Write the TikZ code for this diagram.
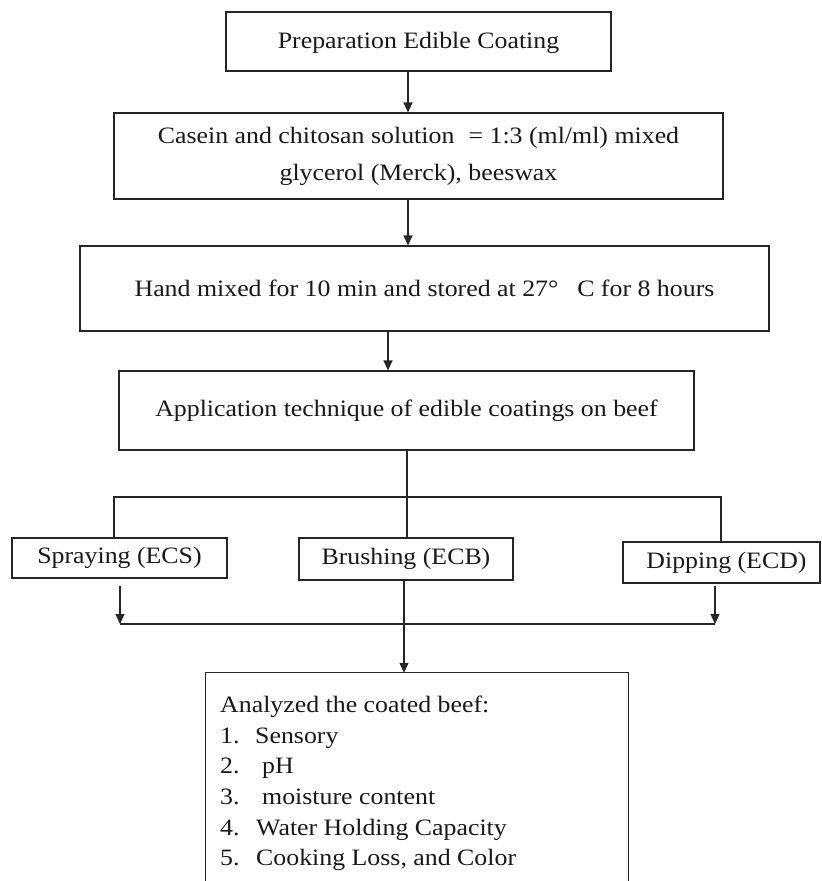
\documentclass[tikz,border=0pt]{standalone}
\usepackage{fontspec}
\setmainfont{Liberation Serif}[FakeStretch=1.1]
\usetikzlibrary{arrows.meta}
\begin{document}
\begin{tikzpicture}[x=1pt,y=-1pt,
  every node/.style={font=\fontsize{23.5}{26}\selectfont, text=black!90},
  box/.style={draw=black!85, line width=1.2pt, inner sep=0pt, align=center},
  ln/.style={draw=black!85, line width=1.2pt},
  arr/.style={ln, -{Triangle[width=9pt,length=10pt]}}]
\useasboundingbox (0,0) rectangle (822,881);
\node[box, minimum width=385pt, minimum height=59pt, text height=20pt, text depth=5.2pt] (prep) at (418.5,41.5) {Preparation Edible Coating};
\node[box, minimum width=609pt, minimum height=86pt, font=\fontsize{23.5}{37}\selectfont] (cas) at (418.5,156)
  {Casein and chitosan solution\hspace{0.6em}= 1:3 (ml/ml) mixed\\ glycerol (Merck), beeswax};
\node[box, minimum width=689pt, minimum height=85pt] (hand) at (424.5,288.5)
  {Hand mixed for 10 min and stored at 27\textdegree\hspace{0.8em}C for 8 hours};
\node[box, minimum width=575pt, minimum height=79pt] (app) at (406.5,410.5)
  {Application technique of edible coatings on beef};
\node[box, minimum width=215pt, minimum height=40pt] (spray) at (119.5,558) {Spraying (ECS)};
\node[box, minimum width=214pt, minimum height=42pt] (brush) at (406,559) {Brushing (ECB)};
\node[box, minimum width=197pt, minimum height=41pt] (dip) at (721.5,562.5) {\hspace{10pt}Dipping (ECD)};
\node[minimum width=422pt, minimum height=208pt, inner sep=0pt] (ana) at (417,777) {};
\draw[ln] (ana.south west) -- (ana.north west) -- (ana.north east) -- (ana.south east);
\node[anchor=north west, align=left, inner sep=0pt, font=\fontsize{23.5}{30.6}\selectfont] (list) at (220,696)
  {Analyzed the coated beef:\\
   \makebox[35pt][l]{1.}Sensory\\
   \makebox[42pt][l]{2.}pH\\
   \makebox[42pt][l]{3.}moisture content\\
   \makebox[36pt][l]{4.}Water Holding Capacity\\
   \makebox[36pt][l]{5.}Cooking Loss, and Color};
\coordinate (br) at (0,497);
\coordinate (jn) at (0,624);
\draw[arr] ([xshift=-10.5pt]prep.south) -- ([xshift=-10.5pt]cas.north);
\draw[arr] ([xshift=-10.5pt]cas.south) -- ([xshift=-10.5pt]cas.south |- hand.north);
\draw[arr] ([xshift=-36.5pt]hand.south) -- ([xshift=-18.5pt]app.north);
\draw[ln] ([xshift=0.5pt]app.south) -- ([xshift=0.5pt]app.south |- brush.north);
\draw[ln] ([xshift=-5.5pt]spray.north) -- ([xshift=-5.5pt]spray.north |- br) -- ([xshift=-0.5pt]dip.north |- br) -- ([xshift=-0.5pt]dip.north);
\draw[arr] ([xshift=0.5pt,yshift=-7pt]spray.south) -- ([xshift=0.5pt]spray.south |- jn);
\draw[arr] ([xshift=-6.5pt,yshift=-2pt]dip.south) -- ([xshift=-6.5pt]dip.south |- jn);
\draw[ln] ([xshift=0.5pt]spray.south |- jn) -- ([xshift=-6.5pt]dip.south |- jn);
\draw[arr] ([xshift=-2pt]brush.south) -- ([xshift=-2pt]brush.south |- ana.north);
\end{tikzpicture}
\end{document}
